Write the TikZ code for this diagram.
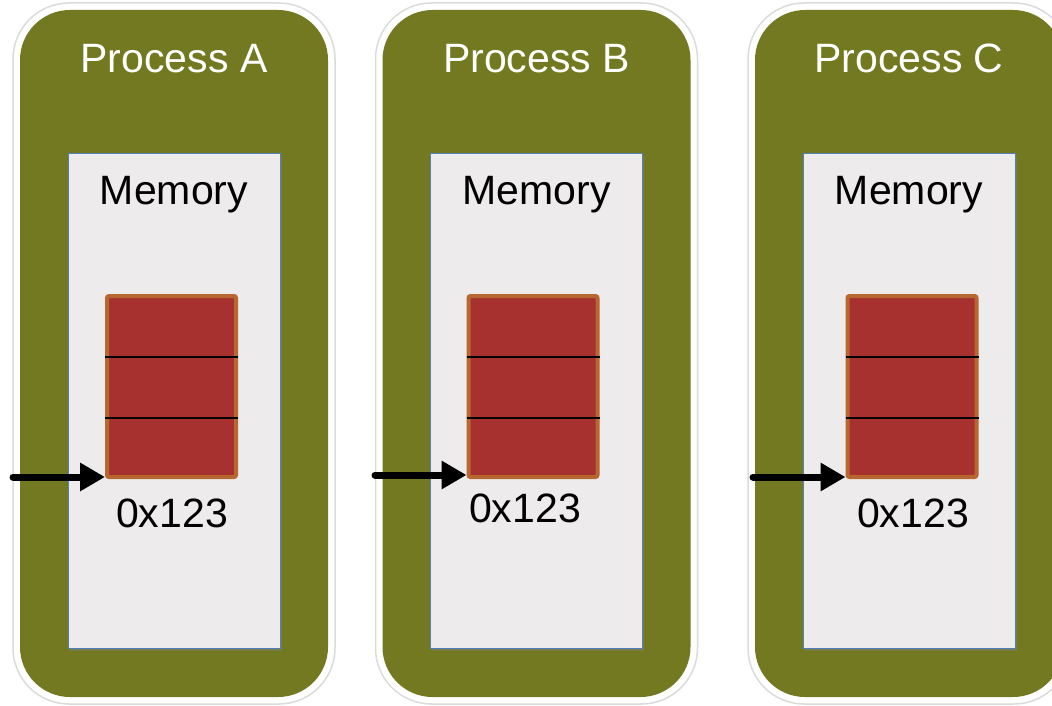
\documentclass[tikz,border=0pt]{standalone}
\usepackage{fontspec}
\setmainfont{Liberation Sans}
\usetikzlibrary{arrows.meta,shadows,calc}
\definecolor{procgreen}{RGB}{115,121,32}
\definecolor{memfill}{RGB}{237,235,236}
\definecolor{memline}{RGB}{79,129,189}
\definecolor{cellred}{RGB}{166,49,47}
\definecolor{cellborder}{RGB}{183,104,48}
\tikzset{
  procglow/.style={draw=black!14, line width=1.5pt, fill=white, rounded corners=56pt},
  procbox/.style={fill=procgreen, draw=none, rounded corners=50pt},
  membox/.style={fill=memfill, draw=memline, line width=1pt,
    drop shadow={shadow xshift=1.5pt, shadow yshift=-3pt, opacity=0.45}},
  cellblock/.style={fill=cellred, draw=cellborder, line width=4pt, rounded corners=2pt},
  celldiv/.style={draw=black, line width=1.3pt},
  ptr/.style={draw=black, line width=7pt, line cap=round, -{Triangle[length=25pt,width=27pt]}},
  bigtext/.style={font=\fontsize{41}{49}\selectfont, inner sep=0pt, anchor=base},
}
\begin{document}
\begin{tikzpicture}[x=1pt,y=-1pt]
\useasboundingbox (0,0) rectangle (1052,706);
\foreach \cx/\lab/\numy/\numx/\arrowx/\ay/\cellx in {174/A/527/172/13/477/171.5, 536.5/B/522/525/375/475/533, 909/C/527/913/753/477/912}{
  % outer process box
  \draw[procglow] (\cx-161,3) rectangle (\cx+161,704);
  \draw[procbox] (\cx-154,10) rectangle (\cx+154,697);
  \node[bigtext, text=white] (proc\lab) at (\cx,73) {Process \lab};
  % memory box
  \node[membox, minimum width=212pt, minimum height=494pt, inner sep=0pt] (mem\lab) at (\cx,401) {};
  \node[bigtext, text=black] (memlabel\lab) at (\cx,204) {Memory};
  % cell block
  \node[cellblock, minimum width=129pt, minimum height=181pt, inner sep=0pt] (cell\lab) at (\cellx,386.5) {};
  \draw[celldiv] ($(cell\lab.west)+(0,-29.5)$) -- ($(cell\lab.east)+(0,-29.5)$);
  \draw[celldiv] ($(cell\lab.west)+(0,31.5)$) -- ($(cell\lab.east)+(0,31.5)$);
  \node[bigtext, text=black] (addr\lab) at (\numx,\numy) {0x123};
  \coordinate (start\lab) at (\arrowx,\ay);
  \draw[ptr] (start\lab) -- (start\lab -| cell\lab.south west);
}
\end{tikzpicture}
\end{document}
